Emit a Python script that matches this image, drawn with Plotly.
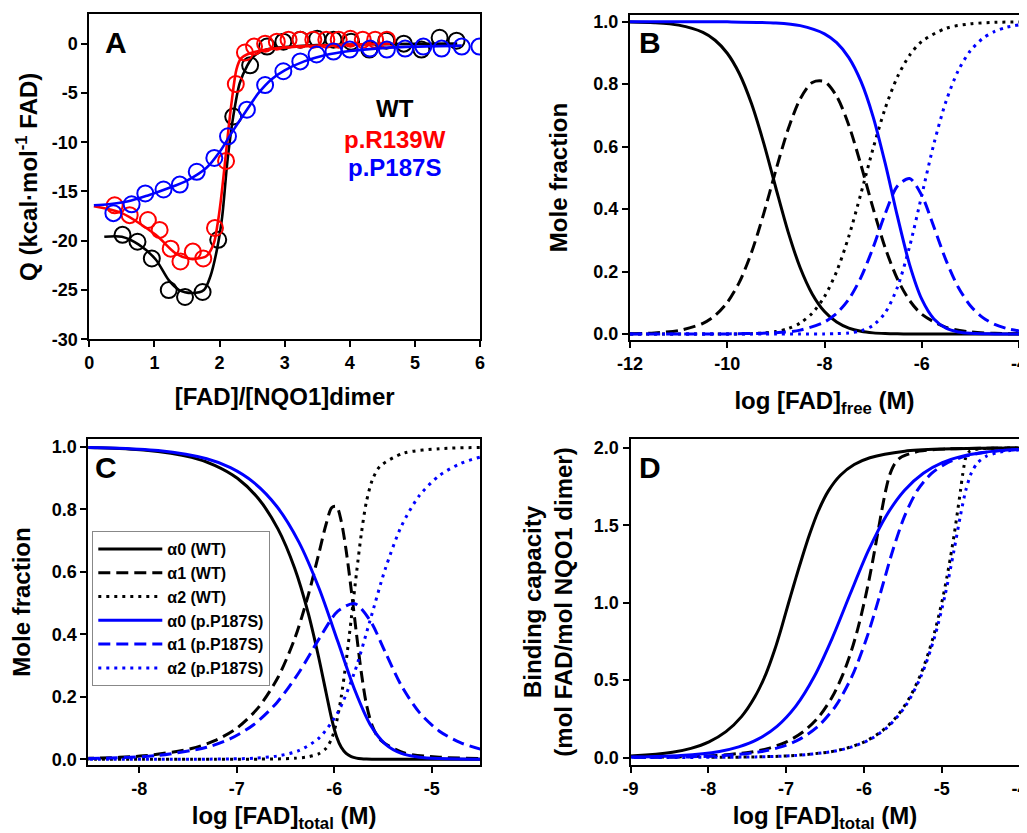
import plotly.graph_objects as go

# The page adds an 8px body margin, so the figure is drawn 8px smaller and
# all reference pixel positions are shifted by that offset.
OFF = 8
W, H = 1027 - OFF, 833 - OFF
FONT = "Arial, Liberation Sans, sans-serif"
BLACK, RED, BLUE = "#000000", "#FF0000", "#0000FF"

# ---------------- Panel A: ITC titration ----------------
wt_pts_x = [0.51, 0.74, 0.96, 1.22, 1.47, 1.74, 1.98, 2.21, 2.47, 2.73, 2.98, 3.24, 3.50, 3.75, 4.02, 4.30, 4.56, 4.83, 5.10, 5.38, 5.64]
wt_pts_y = [-19.4, -20.1, -21.8, -25.0, -25.7, -25.2, -19.9, -7.4, -2.2, -0.3, 0.2, 0.4, 0.5, 0.4, 0.2, -0.6, 0.3, 0.0, -0.6, 0.6, 0.3]
wt_fit_x = [0.23, 0.5, 0.76, 1.02, 1.22, 1.38, 1.58, 1.76, 1.86, 1.96, 2.04, 2.12, 2.21, 2.31, 2.42, 2.52, 2.72, 3.0, 3.5, 4.5, 5.65]
wt_fit_y = [-19.6, -19.6, -20.4, -21.9, -24.0, -25.0, -25.3, -25.0, -23.6, -20.9, -17.6, -12.0, -7.4, -4.0, -2.3, -1.3, -0.6, -0.35, -0.15, -0.05, 0.0]

r139w_pts_x = [0.39, 0.62, 0.90, 1.08, 1.25, 1.40, 1.59, 1.75, 1.93, 2.10, 2.25, 2.39, 2.53, 2.70, 2.88, 3.06, 3.24, 3.44, 3.64, 3.83, 4.01, 4.20, 4.39, 4.57]
r139w_pts_y = [-16.4, -17.4, -17.9, -18.9, -20.8, -22.1, -21.1, -21.8, -18.7, -11.9, -4.1, -0.9, -0.3, 0.0, 0.2, 0.4, 0.4, 0.4, 0.4, 0.4, 0.5, 0.4, 0.4, 0.4]
r139w_fit_x = [0.07, 0.5, 1.02, 1.33, 1.53, 1.79, 1.91, 1.97, 2.02, 2.08, 2.14, 2.19, 2.26, 2.33, 2.42, 2.72, 3.18, 4.0, 4.62]
r139w_fit_y = [-16.5, -17.2, -19.4, -21.3, -21.8, -21.6, -20.3, -18.3, -15.9, -12.3, -8.5, -5.7, -2.6, -1.5, -1.1, -0.6, -0.3, -0.1, 0.0]

p187s_pts_x = [0.37, 0.65, 0.86, 1.14, 1.39, 1.65, 1.92, 2.13, 2.42, 2.70, 2.98, 3.24, 3.49, 3.75, 4.00, 4.31, 4.57, 4.85, 5.13, 5.41, 5.72, 5.99]
p187s_pts_y = [-17.2, -16.3, -15.2, -14.8, -14.3, -13.0, -11.6, -9.4, -6.7, -4.2, -2.8, -1.8, -1.1, -0.8, -0.6, -0.5, -0.6, -0.5, -0.3, -0.5, -0.3, -0.3]
p187s_fit_x = [0.07, 0.3, 0.6, 0.9, 1.2, 1.5, 1.8, 2.0, 2.2, 2.4, 2.6, 2.8, 3.0, 3.3, 3.6, 4.0, 4.5, 5.0, 5.72]
p187s_fit_y = [-16.4, -16.3, -16.0, -15.4, -14.7, -13.9, -12.6, -11.0, -8.9, -6.9, -5.0, -3.6, -2.7, -1.8, -1.2, -0.75, -0.45, -0.3, -0.2]

# ---------------- Panel B: mole fractions vs log[FAD]free ----------------
wt_logfree = [-12, -11.5, -11, -10.5, -10.25, -10, -9.75, -9.5, -9.25, -9, -8.75, -8.5, -8.25, -8, -7.75, -7.5, -7.25, -7, -6.75, -6.5, -6.25, -6, -5.5, -5, -4.5, -4]
wt_a0 = [0.9989, 0.9965, 0.989, 0.9657, 0.9406, 0.899, 0.8333, 0.737, 0.6111, 0.4676, 0.328, 0.2121, 0.1276, 0.072, 0.0382, 0.0188, 0.0086, 0.0036, 0.0014, 0.0005, 0.0002, 0.0001, 0, 0, 0, 0]
wt_a1 = [0.0011, 0.0035, 0.011, 0.0343, 0.0593, 0.1009, 0.1662, 0.2616, 0.3856, 0.5246, 0.6546, 0.7526, 0.8054, 0.8084, 0.7615, 0.6686, 0.5412, 0.402, 0.2751, 0.1761, 0.1073, 0.0633, 0.0209, 0.0067, 0.0021, 0.0007]
wt_a2 = [0, 0, 0, 0, 0, 0.0002, 0.0004, 0.0012, 0.0032, 0.0078, 0.0172, 0.0352, 0.067, 0.1196, 0.2003, 0.3126, 0.4502, 0.5944, 0.7235, 0.8235, 0.8925, 0.9366, 0.979, 0.9933, 0.9979, 0.9993]

mut_logfree = [-12, -10, -9, -8.5, -8, -7.75, -7.5, -7.25, -7, -6.75, -6.5, -6.25, -6, -5.75, -5.5, -5.25, -5, -4.75, -4.5, -4.25, -4]
mut_a0 = [1.0, 0.9996, 0.996, 0.9875, 0.9613, 0.9328, 0.885, 0.8087, 0.6955, 0.5453, 0.3764, 0.2223, 0.1116, 0.0484, 0.0187, 0.0067, 0.0023, 0.0008, 0.0003, 0.0001, 0.0]
mut_a1 = [0.0, 0.0004, 0.004, 0.0124, 0.0383, 0.066, 0.1114, 0.1811, 0.2769, 0.386, 0.4738, 0.4978, 0.4442, 0.3425, 0.2358, 0.15, 0.0907, 0.0532, 0.0306, 0.0175, 0.0099]
mut_a2 = [0, 0, 0, 0, 0.0004, 0.0012, 0.0035, 0.0102, 0.0277, 0.0687, 0.1498, 0.2799, 0.4442, 0.6091, 0.7455, 0.8433, 0.907, 0.946, 0.969, 0.9824, 0.99]

# ---------------- Panel C: same fractions vs log[FAD]total ----------------
wt_logtotal = [-8.958, -8.455, -7.958, -7.464, -7.227, -6.994, -6.777, -6.578, -6.406, -6.267, -6.161, -6.083, -6.025, -5.976, -5.928, -5.878, -5.825, -5.772, -5.721, -5.670, -5.610, -5.532, -5.289, -4.921, -4.473, -3.991]
mut_logtotal = [-11.3, -9.301, -8.301, -7.808, -7.309, -7.065, -6.824, -6.589, -6.364, -6.154, -5.963, -5.790, -5.632, -5.476, -5.311, -5.127, -4.924, -4.705, -4.474, -4.235, -3.991]

# ---------------- Panel D: binding capacity vs log[FAD]total ----------------
wt_nbar = [0.0011, 0.0035, 0.011, 0.0343, 0.0593, 0.1012, 0.167, 0.264, 0.392, 0.5402, 0.689, 0.823, 0.9394, 1.0476, 1.1621, 1.2938, 1.4416, 1.5908, 1.7221, 1.8231, 1.8923, 1.9365, 1.979, 1.9933, 1.9979, 1.9993]
wt_logtotal_low = [-9.955, -9.452, -8.955, -8.461, -8.223, -7.991, -7.773, -7.573, -7.401, -7.259, -7.151, -7.068, -7.002, -6.940, -6.873, -6.793, -6.698, -6.587, -6.456, -6.302, -6.124, -5.923, -5.474, -4.991, -4.497, -3.999]
wt_logtotal_mid = [-8.958, -8.455, -7.958, -7.464, -7.227, -6.994, -6.777, -6.578, -6.406, -6.267, -6.161, -6.083, -6.025, -5.976, -5.928, -5.878, -5.825, -5.772, -5.721, -5.670, -5.610, -5.532, -5.289, -4.921, -4.473, -3.991]
wt_logtotal_high = [-7.959, -7.456, -6.958, -6.465, -6.227, -5.995, -5.777, -5.578, -5.407, -5.267, -5.162, -5.084, -5.027, -4.979, -4.934, -4.887, -4.839, -4.796, -4.759, -4.732, -4.710, -4.691, -4.639, -4.524, -4.287, -3.921]

mut_nbar = [0.0, 0.0004, 0.004, 0.0124, 0.0391, 0.0684, 0.1184, 0.2015, 0.3323, 0.5234, 0.7734, 1.0576, 1.3326, 1.5607, 1.7268, 1.8366, 1.9047, 1.9452, 1.9686, 1.9824, 1.99]
mut_logtotal_low = [-11.85, -9.85, -8.854, -8.356, -7.857, -7.609, -7.362, -7.117, -6.875, -6.638, -6.405, -6.175, -5.946, -5.714, -5.477, -5.236, -4.992, -4.745, -4.497, -4.248, -3.999]
mut_logtotal_mid = [-11.3, -9.301, -8.301, -7.808, -7.309, -7.065, -6.824, -6.589, -6.364, -6.154, -5.963, -5.790, -5.632, -5.476, -5.311, -5.127, -4.924, -4.705, -4.474, -4.235, -3.991]
mut_logtotal_high = [-10.39, -8.387, -7.387, -6.896, -6.397, -6.154, -5.915, -5.684, -5.466, -5.267, -5.094, -4.953, -4.844, -4.760, -4.690, -4.620, -4.537, -4.429, -4.290, -4.119, -3.921]

# ticks
a_xticks = [0, 1, 2, 3, 4, 5, 6]
a_yticks = [-30, -25, -20, -15, -10, -5, 0]
b_xticks = [-12, -10, -8, -6, -4]
frac_ticks = [0.0, 0.2, 0.4, 0.6, 0.8, 1.0]
c_xticks = [-8, -7, -6, -5]
d_xticks = [-9, -8, -7, -6, -5, -4]
d_yticks = [0.0, 0.5, 1.0, 1.5, 2.0]


def lbl(vals, fmt="{:g}"):
    return [fmt.format(v) for v in vals]


fig = go.Figure()
LW = 3.0
DASH = "12px,6px"
DOT = "3px,5px"

# Panel A traces
for px_, py_, fx_, fy_, col in [
    (wt_pts_x, wt_pts_y, wt_fit_x, wt_fit_y, BLACK),
    (r139w_pts_x, r139w_pts_y, r139w_fit_x, r139w_fit_y, RED),
    (p187s_pts_x, p187s_pts_y, p187s_fit_x, p187s_fit_y, BLUE),
]:
    fig.add_trace(go.Scatter(x=px_, y=py_, mode="markers", xaxis="x", yaxis="y", showlegend=False,
                             marker=dict(symbol="circle-open", size=16, color=col, line=dict(width=2, color=col))))
    fig.add_trace(go.Scatter(x=fx_, y=fy_, mode="lines", xaxis="x", yaxis="y", showlegend=False,
                             line=dict(color=col, width=2.6, shape="spline", smoothing=0.8)))

# Panel B traces
for xs, ys, col, dash in [
    (wt_logfree, wt_a0, BLACK, "solid"), (wt_logfree, wt_a1, BLACK, DASH), (wt_logfree, wt_a2, BLACK, DOT),
    (mut_logfree, mut_a0, BLUE, "solid"), (mut_logfree, mut_a1, BLUE, DASH), (mut_logfree, mut_a2, BLUE, DOT),
]:
    fig.add_trace(go.Scatter(x=xs, y=ys, mode="lines", xaxis="x2", yaxis="y2", showlegend=False,
                             line=dict(color=col, width=LW, dash=dash, shape="spline", smoothing=0.8)))

# Panel C traces (with legend)
for xs, ys, col, dash, name in [
    (wt_logtotal, wt_a0, BLACK, "solid", "α0 (WT)"),
    (wt_logtotal, wt_a1, BLACK, DASH, "α1 (WT)"),
    (wt_logtotal, wt_a2, BLACK, DOT, "α2 (WT)"),
    (mut_logtotal, mut_a0, BLUE, "solid", "α0 (p.P187S)"),
    (mut_logtotal, mut_a1, BLUE, DASH, "α1 (p.P187S)"),
    (mut_logtotal, mut_a2, BLUE, DOT, "α2 (p.P187S)"),
]:
    fig.add_trace(go.Scatter(x=xs, y=ys, mode="lines", xaxis="x3", yaxis="y3", name=name, showlegend=True,
                             line=dict(color=col, width=LW, dash=dash, shape="spline", smoothing=0.8)))

# Panel D traces
for xs, ys, col, dash in [
    (wt_logtotal_low, wt_nbar, BLACK, "solid"), (wt_logtotal_mid, wt_nbar, BLACK, DASH), (wt_logtotal_high, wt_nbar, BLACK, DOT),
    (mut_logtotal_low, mut_nbar, BLUE, "solid"), (mut_logtotal_mid, mut_nbar, BLUE, DASH), (mut_logtotal_high, mut_nbar, BLUE, DOT),
]:
    fig.add_trace(go.Scatter(x=xs, y=ys, mode="lines", xaxis="x4", yaxis="y4", showlegend=False,
                             line=dict(color=col, width=LW, dash=dash, shape="spline", smoothing=0.8)))


def hdom(l, r):
    return [(l - OFF) / W, (r - OFF) / W]


def vdom(t, b):
    return [1 - (b - OFF) / H, 1 - (t - OFF) / H]


tickfont = dict(family=FONT, size=18, color=BLACK, weight="bold")
titlefont = dict(family=FONT, size=24, color=BLACK, weight="bold")


def ax(domain, rng, tv, tt, title, anchor, standoff):
    return dict(domain=domain, range=rng, anchor=anchor, showline=True, linecolor=BLACK, linewidth=2,
                mirror=True, ticks="outside", ticklen=6, tickwidth=2, tickcolor=BLACK, showgrid=False,
                zeroline=False, tickvals=tv, ticktext=tt, tickfont=tickfont, automargin=False,
                ticklabeloverflow="allow",
                title=dict(text=title, font=titlefont, standoff=standoff))


fig.update_layout(
    width=W, height=H, paper_bgcolor="white", plot_bgcolor="white",
    margin=dict(l=0, r=0, t=0, b=0),
    xaxis=ax(hdom(89.3, 480), [0, 6], a_xticks, lbl(a_xticks), "[FAD]/[NQO1]dimer", "y", 16),
    yaxis=ax(vdom(14.3, 339.3), [-30, 2.98], a_yticks, lbl(a_yticks), "Q (kcal·mol<sup>-1</sup> FAD)", "x", 7),
    xaxis2=ax(hdom(630, 1019), [-12, -4], b_xticks, lbl(b_xticks), "log [FAD]<sub>free</sub> (M)", "y2", 20),
    yaxis2=ax(vdom(15, 340), [-0.0192, 1.0215], frac_ticks, lbl(frac_ticks, "{:.1f}"), "Mole fraction", "x2", 19),
    xaxis3=ax(hdom(88.3, 480), [-8.524, -4.504], c_xticks, lbl(c_xticks), "log [FAD]<sub>total</sub> (M)", "y3", 14),
    yaxis3=ax(vdom(439, 765), [-0.0183, 1.0246], frac_ticks, lbl(frac_ticks, "{:.1f}"), "Mole fraction", "x3", 16),
    xaxis4=ax(hdom(630.5, 1019.5), [-9, -4], d_xticks, lbl(d_xticks), "log [FAD]<sub>total</sub> (M)", "y4", 15),
    yaxis4=ax(vdom(439, 765), [-0.0484, 2.0575], d_yticks, lbl(d_yticks, "{:.1f}"),
              "Binding capacity<br>(mol FAD/mol NQO1 dimer)", "x4", 14),
    legend=dict(x=(92.3 - OFF) / W, y=1 - (531 - OFF) / H, xanchor="left", yanchor="top", bgcolor="white",
                bordercolor="#888888", borderwidth=1, font=dict(family=FONT, size=16, color=BLACK, weight="bold"),
                itemwidth=64, tracegroupgap=0),
    showlegend=True,
)

letter_font = dict(family=FONT, size=30, color=BLACK, weight="bold")
for xr, yr, txt, xf, yf in [("x domain", "y domain", "A", 0.0683, 0.9117),
                            ("x2 domain", "y2 domain", "B", 0.0514, 0.914),
                            ("x3 domain", "y3 domain", "C", 0.0452, 0.9126),
                            ("x4 domain", "y4 domain", "D", 0.050, 0.914)]:
    fig.add_annotation(xref=xr, yref=yr, x=xf, y=yf, text=txt, showarrow=False, font=letter_font,
                       xanchor="center", yanchor="middle")

label_font = dict(family=FONT, size=24, weight="bold")
for txt, col, yv in [("WT", BLACK, -6.53), ("p.R139W", RED, -9.77), ("p.P187S", BLUE, -12.61)]:
    fig.add_annotation(xref="x", yref="y", x=4.69, y=yv, text=txt, showarrow=False,
                       font=dict(label_font, color=col), xanchor="center", yanchor="middle")

fig.write_html("out.html")
